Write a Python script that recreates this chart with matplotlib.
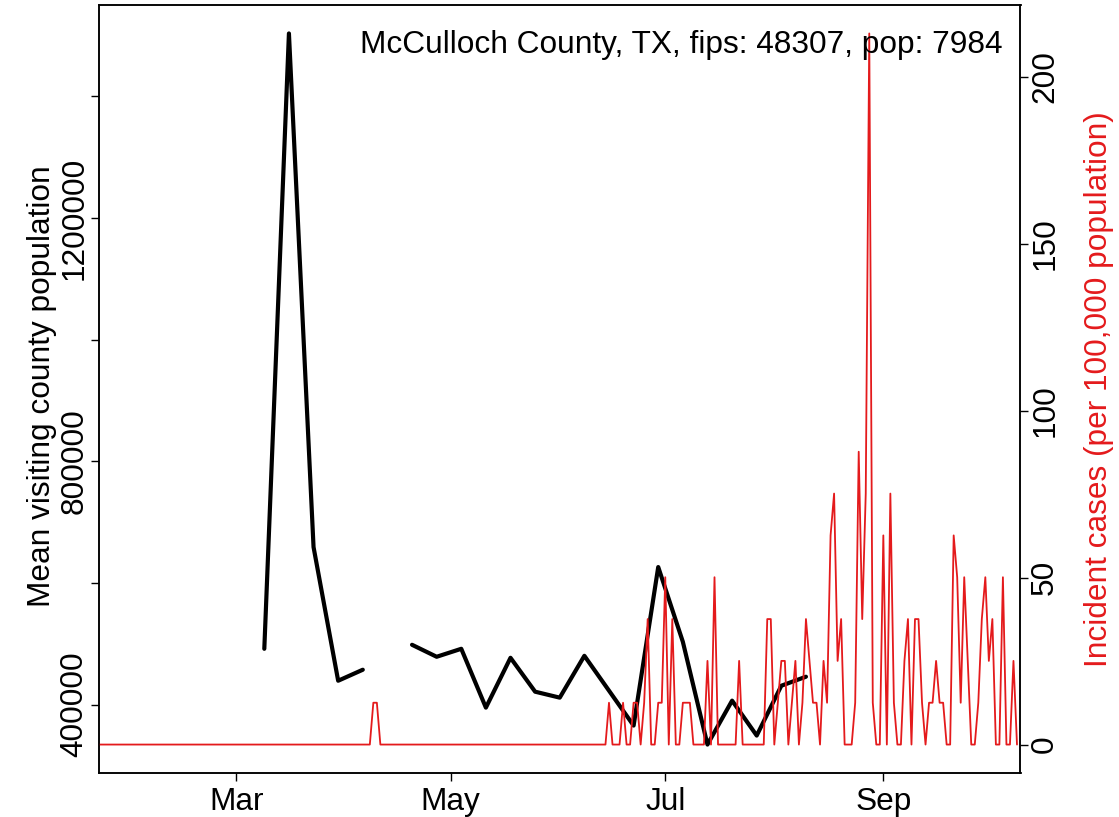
import numpy as np
import pandas as pd
import matplotlib
matplotlib.use('Agg')
import matplotlib.pyplot as plt
import matplotlib.dates as mdates

plt.rcParams['font.family'] = ['Liberation Sans', 'DejaVu Sans']

county = 'McCulloch County, TX'
fips = 48307
pop = 7984

# weekly mean visiting county population (week starting dates, NaN = no data)
week_start = pd.date_range('2020-03-09', '2020-08-10', freq='7D')
visit_pop = [491800, 1503300, 659000, 439300, 457400, np.nan, 498400, 478700,
             491800, 395100, 477000, 421300, 411500, 480300, 423000, 365600,
             626200, 503300, 334400, 406600, 349200, 431100, 445900]

# daily new cases: only the days with cases are listed, all other days are 0
case_days = ['2020-04-09', '2020-04-10', '2020-06-15', '2020-06-19', '2020-06-22',
             '2020-06-23', '2020-06-25', '2020-06-26', '2020-06-29', '2020-06-30',
             '2020-07-01', '2020-07-03', '2020-07-06', '2020-07-07', '2020-07-08',
             '2020-07-13', '2020-07-15', '2020-07-22', '2020-07-30', '2020-07-31',
             '2020-08-02', '2020-08-03', '2020-08-04', '2020-08-06', '2020-08-07',
             '2020-08-09', '2020-08-10', '2020-08-11', '2020-08-12', '2020-08-13',
             '2020-08-15', '2020-08-16', '2020-08-17', '2020-08-18', '2020-08-19',
             '2020-08-20', '2020-08-24', '2020-08-25', '2020-08-26', '2020-08-27',
             '2020-08-28', '2020-08-29', '2020-09-01', '2020-09-03', '2020-09-04',
             '2020-09-07', '2020-09-08', '2020-09-10', '2020-09-11', '2020-09-12',
             '2020-09-14', '2020-09-15', '2020-09-16', '2020-09-17', '2020-09-18',
             '2020-09-21', '2020-09-22', '2020-09-23', '2020-09-24', '2020-09-25',
             '2020-09-28', '2020-09-29', '2020-09-30', '2020-10-01', '2020-10-02',
             '2020-10-05', '2020-10-08']
case_counts = [1, 1, 1, 1, 1,
               1, 1, 3, 1, 1,
               4, 3, 1, 1, 1,
               2, 4, 2, 3, 3,
               1, 2, 2, 1, 2,
               1, 3, 2, 1, 1,
               2, 1, 5, 6, 2,
               3, 1, 7, 3, 6,
               17, 1, 5, 6, 1,
               2, 3, 3, 3, 1,
               1, 1, 2, 1, 1,
               5, 4, 1, 4, 2,
               1, 3, 4, 2, 3,
               4, 2]

first_day = '2020-01-22'
last_day = '2020-10-09'

days = pd.date_range(first_day, last_day, freq='D')
cases = pd.Series(case_counts, index=pd.to_datetime(case_days)).reindex(days, fill_value=0)
incidence = cases * 100000 / pop

red = '#E41A1C'
fs = 22.8

fig = plt.figure(figsize=(11.19, 8.17), dpi=100)
ax = fig.add_axes([99 / 1119, 1 - 773 / 817, 921.5 / 1119, 768 / 817])
ax2 = ax.twinx()

ax.plot(week_start, visit_pop, color='black', lw=3.0,
        solid_joinstyle='round', solid_capstyle='round')
ax2.plot(incidence.index, incidence.values, color=red, lw=1.3,
         solid_joinstyle='round', solid_capstyle='round')

# R style 4% padding on y
def pad(lo, hi):
    r = hi - lo
    return lo - 0.04 * r, hi + 0.04 * r

ax.set_ylim(*pad(np.nanmin(visit_pop), np.nanmax(visit_pop)))
ax2.set_ylim(*pad(0, incidence.max()))
ax.set_xlim(pd.Timestamp('2020-01-22'), pd.Timestamp('2020-10-10'))

ax.set_xticks(pd.to_datetime(['2020-03-01', '2020-05-01', '2020-07-01', '2020-09-01']))
ax.xaxis.set_major_formatter(mdates.DateFormatter('%b'))

yt = [400000, 600000, 800000, 1000000, 1200000, 1400000]
ax.set_yticks(yt)
ax.set_yticklabels(['400000', '', '800000', '', '1200000', ''], rotation=90, va='center')
ax2.set_yticks([0, 50, 100, 150, 200])
ax2.set_yticklabels(['0', '50', '100', '150', '200'], rotation=90, va='center')

for a in (ax, ax2):
    a.tick_params(direction='out', length=6, width=1, labelsize=fs)
    for s in a.spines.values():
        s.set_linewidth(1.1)
ax.tick_params(axis='x', pad=4)
ax.tick_params(axis='y', pad=1)
ax2.tick_params(axis='y', pad=1)

fig.text(42 / 1119, 1 - 386 / 817, 'Mean visiting county population', rotation=90,
         ha='center', va='center', fontsize=fs)
fig.text(1099 / 1119, 1 - 389 / 817, 'Incident cases (per 100,000 population)', rotation=90,
         ha='center', va='center', fontsize=fs, color=red)

ax2.text(0.981, 0.948, f'{county}, fips: {fips}, pop: {pop}', transform=ax2.transAxes,
         ha='right', va='center', fontsize=fs)

fig.savefig('out.png', dpi=100)
